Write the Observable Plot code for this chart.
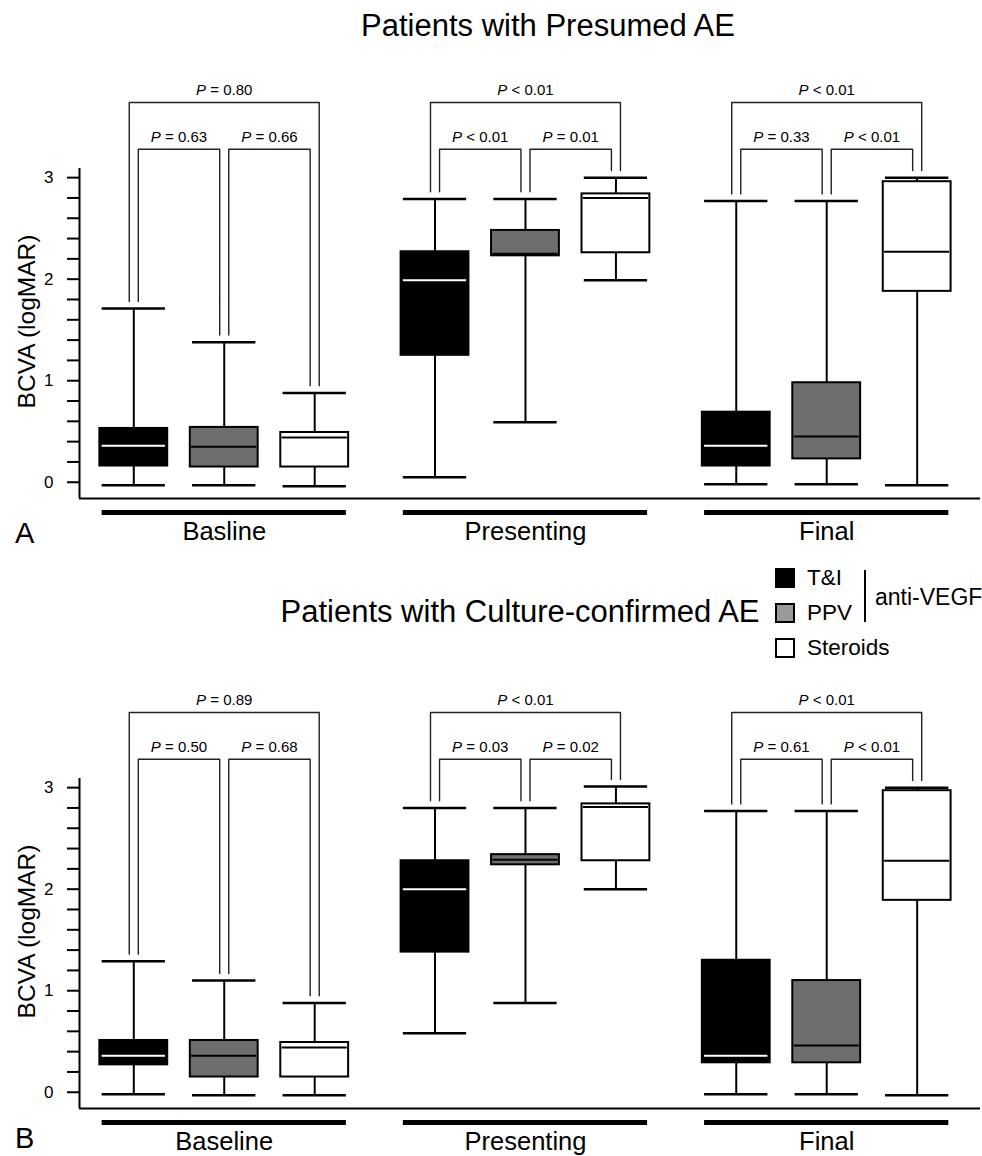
<!DOCTYPE html>
<html><head><meta charset="utf-8">
<script src="https://cdn.jsdelivr.net/npm/d3@7"></script>
<script src="https://cdn.jsdelivr.net/npm/@observablehq/plot@0.6"></script>
<style>
body{margin:0;background:#fff;font-family:"Liberation Sans",Arial,Helvetica,sans-serif;color:#000;}
#page{position:relative;width:982px;height:1156px;overflow:hidden;background:#fff;}
.abs{position:absolute;white-space:nowrap;line-height:1;}
.title{font-size:31px;transform:translateX(-50%);}
.sw{position:absolute;width:16px;height:16px;border:2px solid #000;}
.lg{font-size:22.5px;}
.plotwrap{position:absolute;left:0;}
</style></head><body><div id="page">
<div class="abs title" style="left:548px;top:10px;">Patients with Presumed AE</div>
<div class="abs title" style="left:520px;top:596px;">Patients with Culture-confirmed AE</div>
<div class="abs" style="left:15px;top:519px;font-size:29px;">A</div>
<div class="abs" style="left:15px;top:1124px;font-size:29px;">B</div>
<div id="legend"></div>
<div id="pa" class="plotwrap" style="top:60px;"></div>
<div id="pb" class="plotwrap" style="top:670px;"></div>
</div>
<script>
// ---- data ----
const treatments = ["T&I", "PPV", "Steroids"];
const treatmentFills = ["#000000", "#6e6e6e", "#ffffff"];
const legendFills = ["#000000", "#9a9a9a", "#ffffff"];
const groupsA = ["Basline", "Presenting", "Final"];
const groupsB = ["Baseline", "Presenting", "Final"];
const yTicks = [0, 0.2, 0.4, 0.6, 0.8, 1, 1.2, 1.4, 1.6, 1.8, 2, 2.2, 2.4, 2.6, 2.8, 3];

// Panel A (order: group, then T&I, PPV, Steroids)
const lowA  = [-0.03, -0.03, -0.04,  0.05, 0.59, 1.99,  -0.02, -0.02, -0.03];
const q1A   = [ 0.16,  0.15,  0.15,  1.25, 2.23, 2.26,   0.16,  0.23,  1.88];
const medA  = [ 0.36,  0.35,  0.44,  1.99, 2.25, 2.80,   0.36,  0.45,  2.27];
const q3A   = [ 0.53,  0.54,  0.49,  2.27, 2.48, 2.84,   0.69,  0.98,  2.96];
const highA = [ 1.71,  1.38,  0.88,  2.79, 2.79, 3.00,   2.77,  2.77,  3.00];
const pOuterA = ["P = 0.80", "P < 0.01", "P < 0.01"];
const pLeftA  = ["P = 0.63", "P < 0.01", "P = 0.33"];
const pRightA = ["P = 0.66", "P = 0.01", "P < 0.01"];

// Panel B
const lowB  = [-0.02, -0.03, -0.03,  0.58, 0.88, 2.00,  -0.02, -0.02, -0.03];
const q1B   = [ 0.27,  0.15,  0.15,  1.38, 2.24, 2.28,   0.29,  0.29,  1.89];
const medB  = [ 0.36,  0.36,  0.44,  2.00, 2.29, 2.81,   0.36,  0.46,  2.28];
const q3B   = [ 0.51,  0.51,  0.49,  2.28, 2.34, 2.84,   1.30,  1.10,  2.97];
const highB = [ 1.29,  1.10,  0.88,  2.80, 2.80, 3.01,   2.77,  2.77,  3.00];
const pOuterB = ["P = 0.89", "P < 0.01", "P < 0.01"];
const pLeftB  = ["P = 0.50", "P = 0.03", "P = 0.61"];
const pRightB = ["P = 0.68", "P = 0.02", "P < 0.01"];

// ---- layout helpers ----
const GROUP_STEP = 3.33;
const pos = (g, t) => g * GROUP_STEP + t;
const xDomain = [-0.6, 9.36];
const yDomain = [-0.16, 3.09];
const FONT = '"Liberation Sans", Arial, Helvetica, sans-serif';

function panel(groups, low, q1, med, q3, high, pO, pL, pR) {
  const boxes = low.map((_, k) => {
    const g = Math.floor(k / 3), t = k % 3;
    return {g, t, x: pos(g, t), lo: low[k], q1: q1[k], med: med[k], q3: q3[k], hi: high[k], tr: treatments[t]};
  });
  const legOff = 0.05, legGap = 0.07;
  const brackets = [];
  groups.forEach((_, g) => {
    const hi = t => high[g * 3 + t] + legGap;
    brackets.push({label: pO[g], x1: pos(g, 0) - legOff, x2: pos(g, 2) + legOff, y1: hi(0), y2: hi(2), level: 3.74});
    brackets.push({label: pL[g], x1: pos(g, 0) + legOff, x2: pos(g, 1) - legOff, y1: hi(0), y2: hi(1), level: 3.28});
    brackets.push({label: pR[g], x1: pos(g, 1) + legOff, x2: pos(g, 2) - legOff, y1: hi(1), y2: hi(2), level: 3.28});
  });
  const bracketPts = brackets.flatMap((b, i) => [
    {i, x: b.x1, y: b.y1}, {i, x: b.x1, y: b.level}, {i, x: b.x2, y: b.level}, {i, x: b.x2, y: b.y2}
  ]);
  const svg = Plot.plot({
    width: 982, height: 486,
    marginLeft: 79, marginRight: 2, marginTop: 108, marginBottom: 48,
    x: {domain: xDomain, axis: null},
    y: {domain: yDomain},
    color: {domain: treatments, range: treatmentFills},
    style: {fontFamily: FONT, background: "transparent", color: "#000"},
    marks: [
      Plot.axisY({ticks: yTicks, tickSize: 12, tickPadding: 14, strokeWidth: 2, fontSize: 17, label: null,
        tickFormat: d => Math.abs(d - Math.round(d)) < 1e-6 ? String(Math.round(d)) : ""}),
      Plot.text(["BCVA (logMAR)"], {text: d => d, frameAnchor: "left", textAnchor: "middle", dx: -52, dy: -12, rotate: -90, fontSize: 24.5}),
      Plot.ruleX([xDomain[0]], {strokeWidth: 2}),
      Plot.ruleY([yDomain[0]], {strokeWidth: 2}),
      // group underlines & labels
      Plot.ruleY(groups, {x1: (d, i) => pos(i, 0) - 0.35, x2: (d, i) => pos(i, 2) + 0.35, y: () => yDomain[0], dy: 14, strokeWidth: 5}),
      Plot.text(groups, {x: (d, i) => pos(i, 1), y: () => yDomain[0], text: d => d, dy: 33, fontSize: 25.5}),
      // whiskers
      Plot.ruleX(boxes, {x: "x", y1: "lo", y2: "hi", strokeWidth: 2}),
      Plot.ruleY(boxes, {y: "lo", x1: d => d.x - 0.35, x2: d => d.x + 0.35, strokeWidth: 2.5}),
      Plot.ruleY(boxes, {y: "hi", x1: d => d.x - 0.35, x2: d => d.x + 0.35, strokeWidth: 2.5}),
      // boxes
      Plot.rect(boxes, {x1: d => d.x - 0.375, x2: d => d.x + 0.375, y1: "q1", y2: "q3", fill: "tr", stroke: "#000", strokeWidth: 2}),
      // medians
      Plot.ruleY(boxes.filter(b => b.t === 0), {y: "med", x1: d => d.x - 0.35, x2: d => d.x + 0.35, stroke: "#fff", strokeWidth: 2}),
      Plot.ruleY(boxes.filter(b => b.t !== 0), {y: "med", x1: d => d.x - 0.36, x2: d => d.x + 0.36, stroke: "#000", strokeWidth: 2}),
      // significance brackets
      Plot.line(bracketPts, {x: "x", y: "y", z: "i", stroke: "#222", strokeWidth: 1.4}),
      Plot.text(brackets, {x: d => (d.x1 + d.x2) / 2, y: "level", text: "label", dy: -12, fontSize: 15})
    ]
  });
  svg.querySelectorAll("text").forEach(el => {
    const m = /^P ([=<] .*)$/.exec(el.textContent);
    if (m && el.children.length === 0) {
      el.textContent = "";
      const a = document.createElementNS("http://www.w3.org/2000/svg", "tspan");
      a.setAttribute("font-style", "italic");
      a.textContent = "P";
      const b = document.createElementNS("http://www.w3.org/2000/svg", "tspan");
      b.textContent = " " + m[1];
      el.appendChild(a); el.appendChild(b);
    }
  });
  return svg;
}

document.getElementById("pa").appendChild(panel(groupsA, lowA, q1A, medA, q3A, highA, pOuterA, pLeftA, pRightA));
document.getElementById("pb").appendChild(panel(groupsB, lowB, q1B, medB, q3B, highB, pOuterB, pLeftB, pRightB));

// legend
const lg = document.getElementById("legend");
const legTops = [568, 603, 638];
treatments.forEach((t, i) => {
  const sw = document.createElement("div");
  sw.className = "sw";
  sw.style.left = "775px"; sw.style.top = legTops[i] + "px"; sw.style.background = legendFills[i];
  lg.appendChild(sw);
  const tx = document.createElement("div");
  tx.className = "abs lg";
  tx.style.left = "807px"; tx.style.top = (legTops[i] - 1) + "px";
  tx.textContent = t;
  lg.appendChild(tx);
});
const bar = document.createElement("div");
bar.className = "abs";
bar.style.cssText = "left:864px;top:570px;width:2px;height:52px;background:#000;";
lg.appendChild(bar);
const av = document.createElement("div");
av.className = "abs";
av.style.cssText = "left:875px;top:586px;font-size:23px;";
av.textContent = "anti-VEGF";
lg.appendChild(av);
</script>
</body></html>
